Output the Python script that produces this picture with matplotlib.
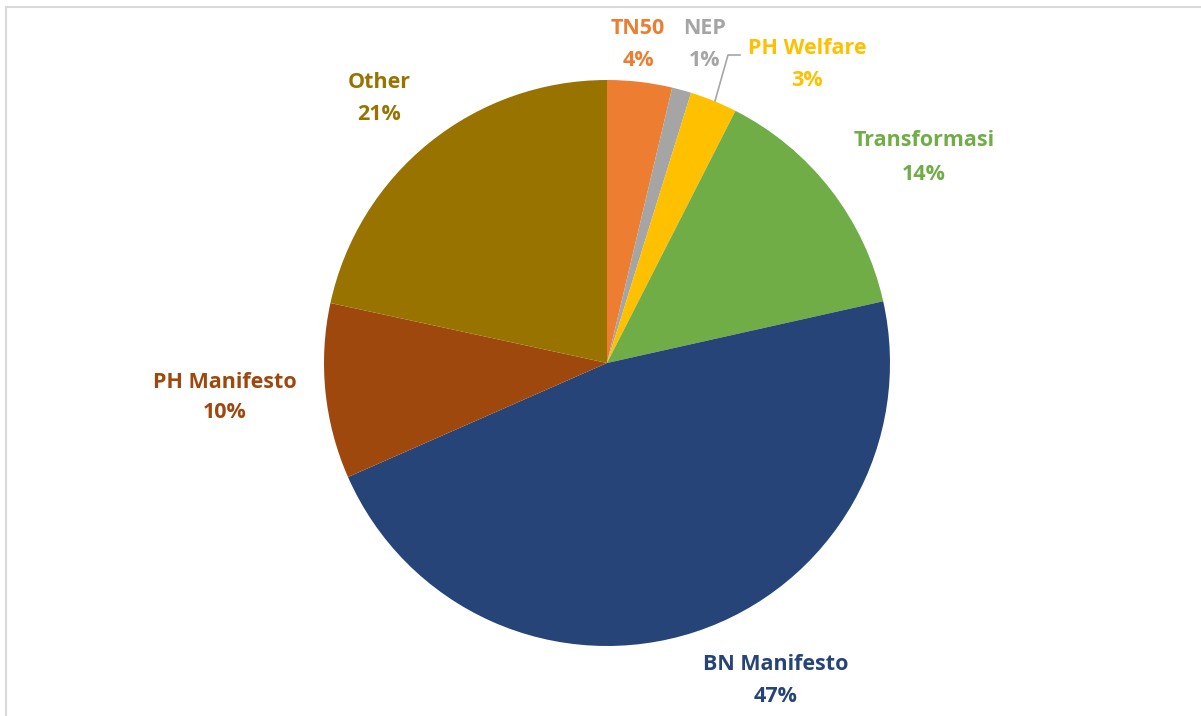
import matplotlib
matplotlib.use("Agg")
import matplotlib.pyplot as plt
from matplotlib.lines import Line2D

categories = ["TN50", "NEP", "PH Welfare", "Transformasi", "BN Manifesto", "PH Manifesto", "Other"]
values = [3.7, 1.1, 2.7, 14.0, 46.9, 10.0, 21.6]
pct_labels = ["4%", "1%", "3%", "14%", "47%", "10%", "21%"]
colors = ["#ED7D31", "#A5A5A5", "#FFC000", "#70AD47", "#264478", "#9E480E", "#997300"]

W, H = 1201, 716
fig = plt.figure(figsize=(W / 100, H / 100), dpi=100)
ax = fig.add_axes([0, 0, 1, 1])

cx, cy, r = 607, H - 363, 283
ax.pie(values, colors=colors, startangle=90, counterclock=False,
       center=(cx, cy), radius=r, wedgeprops=dict(linewidth=0))
ax.set_xlim(0, W)
ax.set_ylim(0, H)
ax.set_aspect("auto")
ax.axis("off")

# label positions (pixel coords, top-origin) for name and percent lines
label_pos = {
    "TN50": (638, 28, 60),
    "NEP": (705, 28, 61),
    "PH Welfare": (807, 48, 80),
    "Transformasi": (924, 141, 174),
    "BN Manifesto": (776, 664, 697),
    "PH Manifesto": (225, 383, 413),
    "Other": (379, 82, 114),
}
font = ["Open Sans", "DejaVu Sans"]
for cat, pct, col in zip(categories, pct_labels, colors):
    x, y1, y2 = label_pos[cat]
    ax.text(x, H - y1, cat, color=col, fontsize=15.5, fontweight="bold",
            ha="center", va="center", family=font)
    ax.text(x, H - y2, pct, color=col, fontsize=15.5, fontweight="bold",
            ha="center", va="center", family=font)

# leader line for PH Welfare
ax.add_line(Line2D([715, 728, 740], [H - 101, H - 55, H - 55], color="#A6A6A6", lw=1.2))

# frame
fig.add_artist(Line2D([5.5 / W, 5.5 / W], [0, 1 - 7 / H], transform=fig.transFigure,
                      color="#D9D9D9", lw=1.5))
fig.add_artist(Line2D([5.5 / W, 1], [1 - 7 / H, 1 - 7 / H], transform=fig.transFigure,
                      color="#D9D9D9", lw=1.5))

fig.savefig("out.png", dpi=100)
